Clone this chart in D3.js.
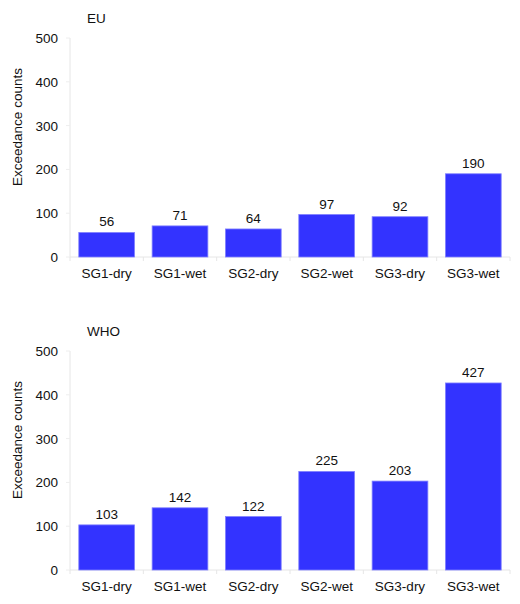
<!DOCTYPE html>
<html>
<head>
<meta charset="utf-8">
<script src="https://cdn.jsdelivr.net/npm/d3@7"></script>
<style>
  body { margin: 0; background: #fff; }
  text { font-family: "Liberation Sans", Arial, sans-serif; fill: #111; }
</style>
</head>
<body>
<script>
// data
const categories = ["SG1-dry", "SG1-wet", "SG2-dry", "SG2-wet", "SG3-dry", "SG3-wet"]
const euValues = [56, 71, 64, 97, 92, 190]
const whoValues = [103, 142, 122, 225, 203, 427]
const yTicks = [0, 100, 200, 300, 400, 500]

const svg = d3.select("body").append("svg")
    .attr("width", 520)
    .attr("height", 604)

const x = d3.scaleBand()
    .domain(categories)
    .range([70, 510])
    .paddingInner(0.24)
    .paddingOuter(0.12)

// band boundaries for tick marks
const step = x.step()

function panel(title, values, top) {
    const g = svg.append("g")
    const y = d3.scaleLinear().domain([0, 500]).range([top + 219, top])

    // axis lines
    g.append("line")
        .attr("x1", 70).attr("x2", 70)
        .attr("y1", y(500)).attr("y2", y(0))
        .attr("stroke", "#e6e6e6")
    g.append("line")
        .attr("x1", 70).attr("x2", 510)
        .attr("y1", y(0)).attr("y2", y(0))
        .attr("stroke", "#e6e6e6")

    // y ticks
    g.selectAll(".yt").data(yTicks).enter().append("line")
        .attr("x1", 66).attr("x2", 70)
        .attr("y1", d => y(d)).attr("y2", d => y(d))
        .attr("stroke", "#eeeeee")
    g.selectAll(".yl").data(yTicks).enter().append("text")
        .attr("x", 58)
        .attr("y", d => y(d) + 5)
        .attr("text-anchor", "end")
        .style("font-size", "13.5px")
        .text(d => d)

    // x boundary ticks
    const bounds = d3.range(categories.length + 1).map(i => 70 + i * step)
    g.selectAll(".xt").data(bounds).enter().append("line")
        .attr("x1", d => d).attr("x2", d => d)
        .attr("y1", y(0)).attr("y2", y(0) + 4)
        .attr("stroke", "#e6e6e6")

    // bars
    g.selectAll(".bar").data(values).enter().append("rect")
        .attr("x", (d, i) => x(categories[i]))
        .attr("y", d => y(d))
        .attr("width", x.bandwidth())
        .attr("height", d => y(0) - y(d))
        .attr("fill", "#3333ff")
        .attr("stroke", "#8080ff")
        .attr("stroke-width", 0.8)

    // value labels
    g.selectAll(".vl").data(values).enter().append("text")
        .attr("x", (d, i) => x(categories[i]) + x.bandwidth() / 2)
        .attr("y", d => y(d) - 6)
        .attr("text-anchor", "middle")
        .style("font-size", "13.5px")
        .text(d => d)

    // category labels
    g.selectAll(".cl").data(categories).enter().append("text")
        .attr("x", d => x(d) + x.bandwidth() / 2)
        .attr("y", y(0) + 21)
        .attr("text-anchor", "middle")
        .style("font-size", "13.5px")
        .text(d => d)

    // title
    g.append("text")
        .attr("x", 87)
        .attr("y", top - 15)
        .style("font-size", "13.5px")
        .text(title)

    // y label
    g.append("text")
        .attr("transform", `translate(22, ${top + 89}) rotate(-90)`)
        .attr("text-anchor", "middle")
        .style("font-size", "13.5px")
        .text("Exceedance counts")
}

panel("EU", euValues, 38)
panel("WHO", whoValues, 351)
</script>
</body>
</html>
